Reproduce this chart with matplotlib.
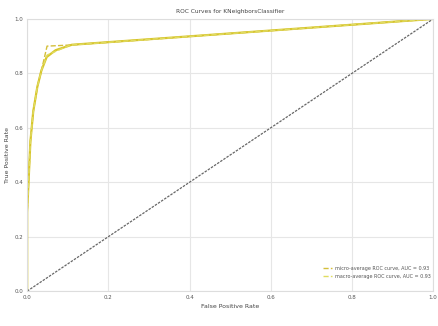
import matplotlib
matplotlib.use("Agg")
import matplotlib.pyplot as plt

# ROC curve points
fpr_class = [0.0, 0.0, 0.004, 0.008, 0.015, 0.025, 0.035, 0.048, 0.07, 0.11, 1.0]
tpr_class = [0.0, 0.29, 0.42, 0.55, 0.66, 0.75, 0.81, 0.86, 0.885, 0.905, 1.0]

fpr_micro = [0.0, 0.0, 0.004, 0.008, 0.015, 0.025, 0.035, 0.049, 0.106, 1.0]
tpr_micro = [0.0, 0.29, 0.42, 0.55, 0.66, 0.75, 0.81, 0.90, 0.904, 1.0]

fpr_macro = [0.0, 0.0, 0.004, 0.008, 0.015, 0.025, 0.035, 0.049, 0.106, 1.0]
tpr_macro = [0.0, 0.29, 0.42, 0.55, 0.66, 0.75, 0.81, 0.867, 0.904, 1.0]

auc_micro = 0.93
auc_macro = 0.93

fig = plt.figure(figsize=(4.38, 3.26), dpi=100)
ax = fig.add_axes([0.062, 0.107, 0.927, 0.835])

ax.plot(fpr_class, tpr_class, color="#d8c62a", linewidth=1.6)
ax.plot(fpr_micro, tpr_micro, color="#d4bf3a", linewidth=1.0, linestyle="--",
        label=f"micro-average ROC curve, AUC = {auc_micro:.2f}")
ax.plot(fpr_macro, tpr_macro, color="#e0dc60", linewidth=1.0, linestyle="--",
        label=f"macro-average ROC curve, AUC = {auc_macro:.2f}")
ax.plot([0, 1], [0, 1], color="#666666", linewidth=0.9, linestyle=(0, (2, 1)))

ax.set_xlim(0, 1)
ax.set_ylim(0, 1)
ax.set_xticks([0.0, 0.2, 0.4, 0.6, 0.8, 1.0])
ax.set_yticks([0.0, 0.2, 0.4, 0.6, 0.8, 1.0])
ax.tick_params(labelsize=4, colors="#555555", length=0, pad=3)
ax.grid(color="#e6e6e6", linewidth=0.8)
ax.set_axisbelow(True)
for s in ax.spines.values():
    s.set_color("#dddddd")
    s.set_linewidth(0.8)

ax.set_title("ROC Curves for KNeighborsClassifier", fontsize=4.2, color="#444444", pad=4)
ax.set_xlabel("False Positive Rate", fontsize=4.5, color="#444444", labelpad=3)
ax.set_ylabel("True Positive Rate", fontsize=4.5, color="#444444", labelpad=3)

ax.legend(loc="lower right", bbox_to_anchor=(1.005, 0.03), fontsize=3.5,
          frameon=False, handlelength=1.8, handletextpad=0.6, labelspacing=0.6,
          labelcolor="#555555")

fig.savefig("out.png", dpi=100)
